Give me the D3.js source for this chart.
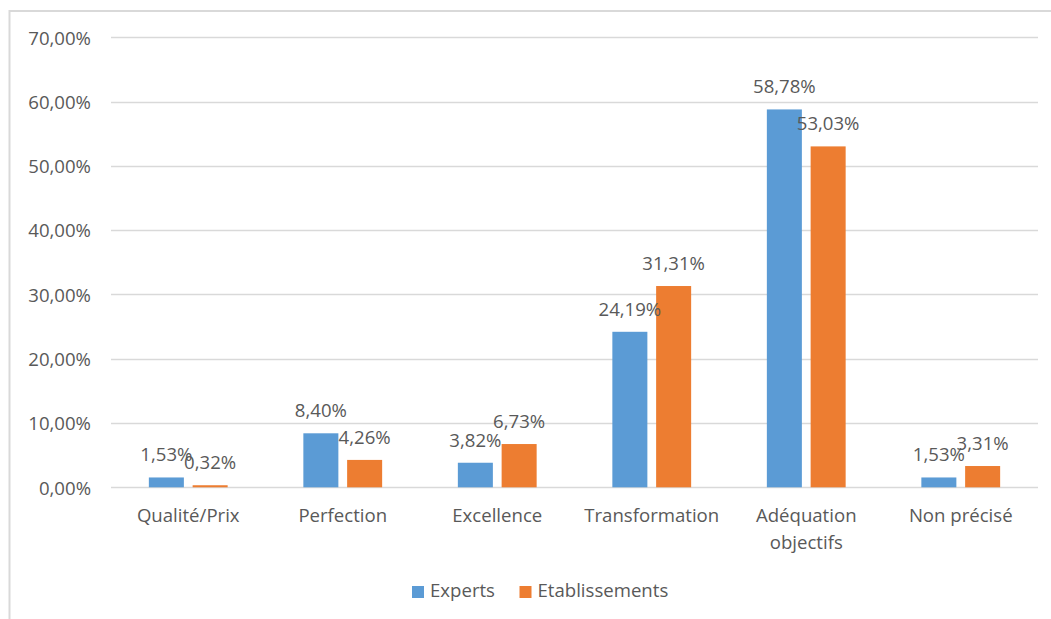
<!DOCTYPE html>
<html>
<head>
<meta charset="utf-8">
<script src="https://cdn.jsdelivr.net/npm/d3@7"></script>
<style>
  html, body { margin: 0; padding: 0; background: #ffffff; }
  svg { display: block; }
  text { font-family: "Open Sans", "DejaVu Sans", sans-serif; fill: #595959; }
</style>
</head>
<body>
<script>
// Categories and series (percent values)
const categories = ["Qualité/Prix", "Perfection", "Excellence", "Transformation", "Adéquation objectifs", "Non précisé"];
const seriesNames = ["Experts", "Etablissements"];
const experts = [1.53, 8.40, 3.82, 24.19, 58.78, 1.53];
const etablissements = [0.32, 4.26, 6.73, 31.31, 53.03, 3.31];
const yTicks = [0, 10, 20, 30, 40, 50, 60, 70];
const colors = ["#5B9BD5", "#ED7D31"];

const W = 1051, H = 619;
const plot = { left: 111, right: 1038, top: 37.3, bottom: 487.3 };
const fontSize = 18.6;

const fmt = v => v.toFixed(2).replace(".", ",") + "%";

const svg = d3.select("body").append("svg").attr("width", W).attr("height", H);

// Outer chart frame
svg.append("rect")
  .attr("x", 9.5).attr("y", 11).attr("width", 1100).attr("height", 700)
  .attr("fill", "none").attr("stroke", "#d9d9d9").attr("stroke-width", 2);

const x0 = d3.scaleBand().domain(categories).range([plot.left, plot.right]).paddingInner(0).paddingOuter(0);
// the pair of bars takes about half of each category band
const x1 = d3.scaleBand().domain(seriesNames)
  .range([0, x0.bandwidth() * 0.51]).paddingInner(0.2).paddingOuter(0);
const y = d3.scaleLinear().domain([0, 70]).range([plot.bottom, plot.top]);

// Gridlines
svg.append("g").selectAll("line").data(yTicks).join("line")
  .attr("x1", plot.left).attr("x2", plot.right)
  .attr("y1", d => Math.round(y(d)) + 0.5).attr("y2", d => Math.round(y(d)) + 0.5)
  .attr("stroke", "#d9d9d9").attr("stroke-width", 1.3);

// Y axis labels
const yAxis = d3.axisLeft(y).tickValues(yTicks).tickSize(0).tickPadding(0)
  .tickFormat(d => d.toFixed(2).replace(".", ",") + "%");
const ya = svg.append("g").attr("transform", `translate(${plot.left - 20},0)`).call(yAxis);
ya.select(".domain").remove();
ya.selectAll("text").attr("font-size", fontSize).attr("fill", "#595959")
  .style("font-family", "'Open Sans', sans-serif").attr("dy", "0.36em");

// Bars
const rows = categories.map((c, i) => ({ cat: c, vals: [experts[i], etablissements[i]] }));
const offset = (x0.bandwidth() - x1.range()[1]) / 2;

const groups = svg.append("g").selectAll("g").data(rows).join("g")
  .attr("transform", d => `translate(${x0(d.cat) + offset},0)`);

groups.selectAll("rect").data(d => d.vals.map((v, k) => ({ v, k }))).join("rect")
  .attr("x", d => x1(seriesNames[d.k]))
  .attr("width", x1.bandwidth())
  .attr("y", d => y(d.v))
  .attr("height", d => y(0) - y(d.v))
  .attr("fill", d => colors[d.k]);

// Value labels
groups.selectAll("text").data(d => d.vals.map((v, k) => ({ v, k }))).join("text")
  .attr("x", d => x1(seriesNames[d.k]) + x1.bandwidth() / 2)
  .attr("y", d => y(d.v) - 16)
  .attr("text-anchor", "middle")
  .attr("font-size", fontSize)
  .text(d => fmt(d.v));

// Category labels
const xl = svg.append("g").selectAll("text").data(categories).join("text")
  .attr("x", d => x0(d) + x0.bandwidth() / 2)
  .attr("y", 522)
  .attr("text-anchor", "middle")
  .attr("font-size", fontSize);
xl.each(function(d) {
  const t = d3.select(this);
  const parts = d === "Adéquation objectifs" ? ["Adéquation", "objectifs"] : [d];
  parts.forEach((p, i) => {
    t.append("tspan").attr("x", x0(d) + x0.bandwidth() / 2).attr("dy", i === 0 ? 0 : 27).text(p);
  });
});

// Legend
const legend = svg.append("g");
const legendItems = [{ name: "Experts", x: 412 }, { name: "Etablissements", x: 519.5 }];
legendItems.forEach((it, k) => {
  legend.append("rect").attr("x", it.x).attr("y", 586).attr("width", 12).attr("height", 12).attr("fill", colors[k]);
  legend.append("text").attr("x", it.x + 18).attr("y", 597).attr("font-size", fontSize).text(it.name);
});
</script>
</body>
</html>
